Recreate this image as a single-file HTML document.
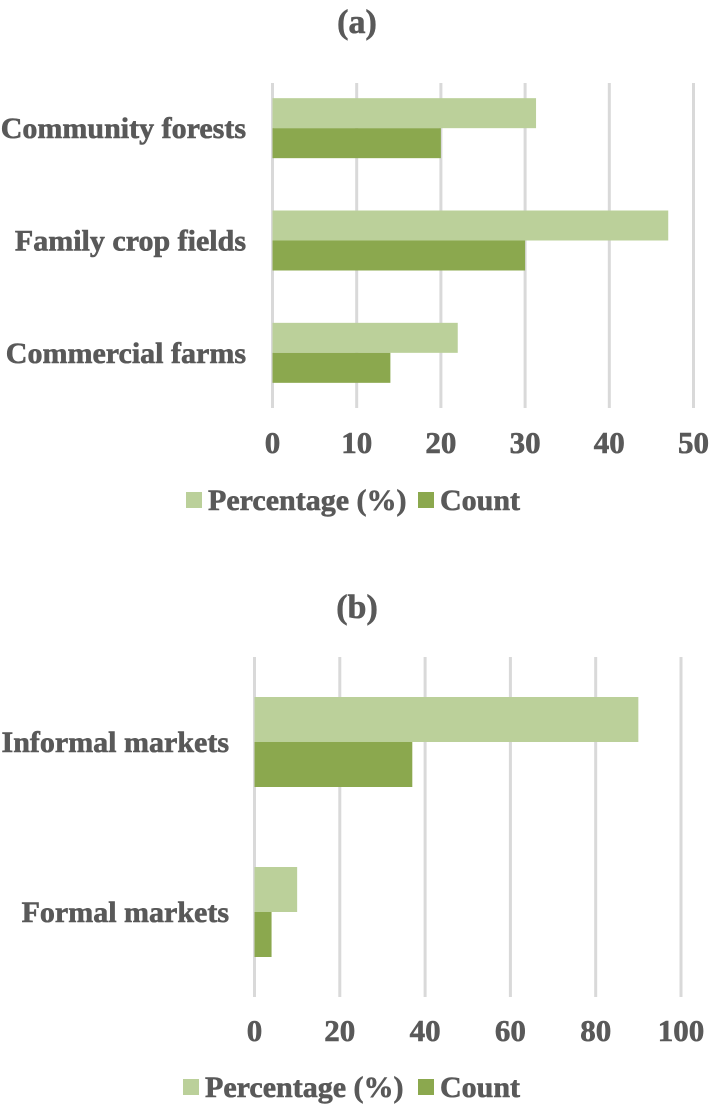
<!DOCTYPE html>
<html><head><meta charset="utf-8"><style>
body{margin:0;background:#fff;}
svg{display:block;font-family:"Liberation Serif",serif;font-weight:bold;fill:#595959;}
</style></head><body>
<svg id="chart" width="712" height="1108" viewBox="0 0 712 1108"></svg>
<script>
const catsA = ["Community forests","Family crop fields","Commercial farms"];
const pctA = [31.3, 47, 22];
const cntA = [20, 30, 14];
const ticksA = [0,10,20,30,40,50];
const catsB = ["Informal markets","Formal markets"];
const pctB = [90, 10];
const cntB = [37, 4];
const ticksB = [0,20,40,60,80,100];

const svg = document.getElementById('chart');
const NS = 'http://www.w3.org/2000/svg';
function mk(tag, attrs, parent){const e=document.createElementNS(NS,tag);for(const k in attrs)e.setAttribute(k,attrs[k]);(parent||svg).appendChild(e);return e;}
function txt(s, x, y, anchor, size, name){const t=mk('text',{x:x,y:y,'text-anchor':anchor,'font-size':size,stroke:'#595959','stroke-width':0.6});t.textContent=s;


return t;}

function drawChart(cfg){
  const g = mk('g',{});
  
  
  const xs = v => cfg.x0 + (v - cfg.ticks[0]) / (cfg.ticks[cfg.ticks.length-1]-cfg.ticks[0]) * (cfg.x1 - cfg.x0);
  const bandH = (cfg.bandBottom - cfg.bandTop) / cfg.cats.length;
  cfg.ticks.forEach(t=>{
    const l = mk('line',{x1:xs(t),x2:xs(t),y1:cfg.gridTop,y2:cfg.gridBottom,stroke:'#d9d9d9','stroke-width':3},g);
    
    
    g.appendChild(txt(String(t), xs(t), cfg.tickY, 'middle', 31, 'x-tick-label'));
  });
  cfg.cats.forEach((c,i)=>{
    const cy = cfg.bandTop + (i+0.5)*bandH;
    const r1 = mk('rect',{x:xs(0),y:cy-cfg.barH,width:xs(cfg.pct[i])-xs(0),height:cfg.barH,fill:'#bbd09a'},g);
    
    
    const r2 = mk('rect',{x:xs(0),y:cy,width:xs(cfg.cnt[i])-xs(0),height:cfg.barH,fill:'#8ba84e'},g);
    
    
    g.appendChild(txt(c, cfg.labelX, cy+10, 'end', 30, 'category-label'));
  });
  g.appendChild(txt(cfg.title, 357, cfg.titleY, 'middle', 34, 'chart-title'));
  const s1 = mk('rect',{x:cfg.leg1,y:cfg.legY-8,width:16,height:16,fill:'#bbd09a'},g);
  
  
  g.appendChild(txt('Percentage (%)', cfg.leg1+22, cfg.legY+10, 'start', 30, 'legend-entry-percentage'));
  const s2 = mk('rect',{x:cfg.leg2,y:cfg.legY-8,width:16,height:16,fill:'#8ba84e'},g);
  
  
  g.appendChild(txt('Count', cfg.leg2+22, cfg.legY+10, 'start', 30, 'legend-entry-count'));
}

drawChart({name:'chart-a',cats:catsA,pct:pctA,cnt:cntA,ticks:ticksA,x0:272.5,x1:693.5,
  gridTop:83,gridBottom:408,bandTop:72,bandBottom:409,barH:30,tickY:453,labelX:246,
  title:'(a)',titleY:33,leg1:186,leg2:418,legY:500});
drawChart({name:'chart-b',cats:catsB,pct:pctB,cnt:cntB,ticks:ticksB,x0:254.5,x1:681,
  gridTop:657,gridBottom:997,bandTop:657,bandBottom:997,barH:45,tickY:1041,labelX:229,
  title:'(b)',titleY:618,leg1:183,leg2:418,legY:1087});
</script>
</body></html>
